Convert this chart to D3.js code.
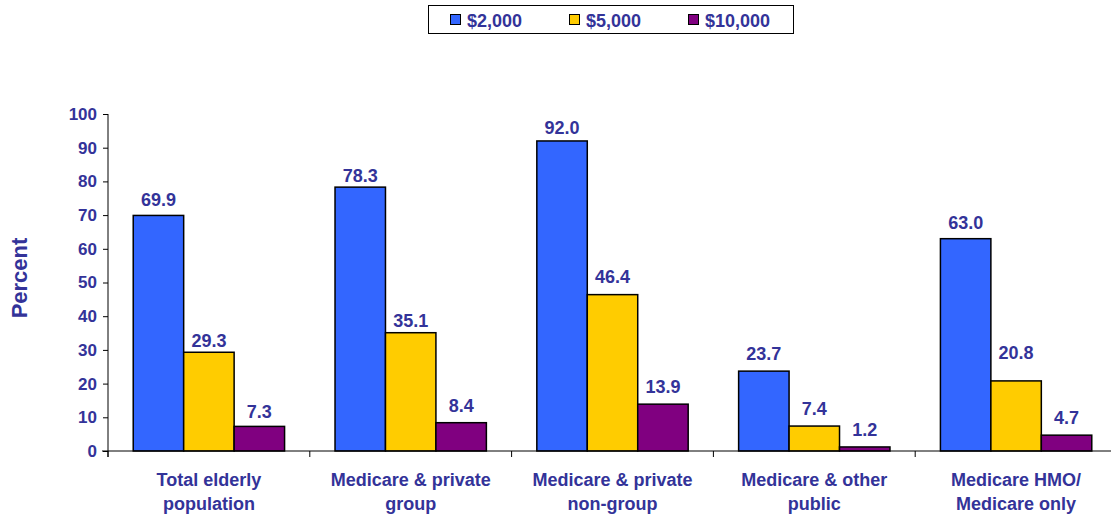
<!DOCTYPE html>
<html><head><meta charset="utf-8">
<script src="https://cdn.jsdelivr.net/npm/d3@7"></script>
<style>body{margin:0;background:#fff}svg{display:block}text{font-family:"Liberation Sans",Arial,sans-serif;font-weight:bold;fill:#333399}</style>
</head><body><svg id="c" width="1111" height="514"></svg>
<script>
const categories = [["Total elderly","population"],["Medicare & private","group"],["Medicare & private","non-group"],["Medicare & other","public"],["Medicare HMO/","Medicare only"]];
const seriesNames = ["$2,000","$5,000","$10,000"];
const colors = ["#3366FF","#FFCC00","#800080"];
const v2000 = [69.9,78.3,92.0,23.7,63.0];
const v5000 = [29.3,35.1,46.4,7.4,20.8];
const v10000 = [7.3,8.4,13.9,1.2,4.7];
const yTicks = [0,10,20,30,40,50,60,70,80,90,100];
const series = [v2000,v5000,v10000];
// label gap above bar (px), per series, per category (styling only)
const labelGap = [[9,5,7,11,10],[5,6,12,11,22],[8,11,11,11,11]];

const svg = d3.select("#c");
const x0 = 108, x1 = 1117, yTop = 114, yBot = 451;
const x = d3.scaleBand().domain(d3.range(categories.length)).range([x0,x1]).paddingInner(0).paddingOuter(0);
const y = d3.scaleLinear().domain([0,100]).range([yBot,yTop]);
const xs = d3.scaleBand().domain(d3.range(3)).range([0,x.bandwidth()]).paddingOuter(0.5).paddingInner(0);

// y axis
const ya = svg.append("g").attr("transform",`translate(${x0},0)`).call(d3.axisLeft(y).tickValues(yTicks).tickSize(5).tickPadding(6));
ya.select(".domain").attr("stroke","#000").attr("d",`M0,${yTop}V${yBot+6}`);
ya.selectAll(".tick line").attr("stroke","#000");
ya.selectAll(".tick text").style("font-size","17px").attr("fill","#333399").style("font-family","Liberation Sans, Arial, sans-serif").style("font-weight","bold");

// bars
categories.forEach((c,i)=>{
  series.forEach((s,j)=>{
    const bx = x(i)+xs(j);
    svg.append("rect").attr("x",bx).attr("y",y(s[i])).attr("width",xs.bandwidth()).attr("height",yBot-y(s[i]))
      .attr("fill",colors[j]).attr("stroke","#000").attr("stroke-width",1.5);
    svg.append("text").attr("x",bx+xs.bandwidth()/2).attr("y",y(s[i])-labelGap[j][i]).attr("text-anchor","middle").style("font-size","18px").text(s[i].toFixed(1));
  });
});

// x axis
svg.append("line").attr("x1",102).attr("x2",1111).attr("y1",yBot).attr("y2",yBot).attr("stroke","#000").attr("stroke-width",1);
d3.range(categories.length+1).forEach(i=>{
  const tx = i<categories.length? x(i): x1;
  svg.append("line").attr("x1",tx).attr("x2",tx).attr("y1",yBot).attr("y2",yBot+6).attr("stroke","#000");
});
categories.forEach((c,i)=>{
  const t = svg.append("text").attr("x",x(i)+x.bandwidth()/2).attr("y",486).attr("text-anchor","middle").style("font-size","18px");
  c.forEach((l,k)=>t.append("tspan").attr("x",x(i)+x.bandwidth()/2).attr("dy",k?24:0).text(l));
});

// y title
svg.append("text").attr("transform","translate(27,278) rotate(-90)").attr("text-anchor","middle").style("font-size","22px").text("Percent");

// legend
svg.append("rect").attr("x",428.5).attr("y",5.5).attr("width",365).attr("height",28).attr("fill","#fff").attr("stroke","#000");
const lx = [450,569,688];
seriesNames.forEach((n,j)=>{
  svg.append("rect").attr("x",lx[j]+0.5).attr("y",14.5).attr("width",10).attr("height",10).attr("fill",colors[j]).attr("stroke","#000");
  svg.append("text").attr("x",lx[j]+17).attr("y",26.5).style("font-size","18px").text(n);
});
</script></body></html>
